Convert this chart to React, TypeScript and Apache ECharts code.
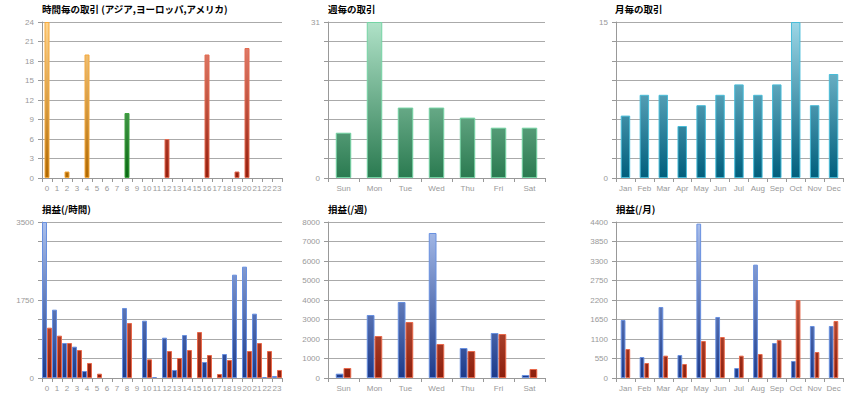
import React, { useEffect, useRef } from "react";
import * as echarts from "echarts";

// ---------- data ----------
const hourLabels = ["0","1","2","3","4","5","6","7","8","9","10","11","12","13","14","15","16","17","18","19","20","21","22","23"];
const weekLabels = ["Sun", "Mon", "Tue", "Wed", "Thu", "Fri", "Sat"];
const monthLabels = ["Jan","Feb","Mar","Apr","May","Jun","Jul","Aug","Sep","Oct","Nov","Dec"];

// trades per hour, split by market region
const asiaTrades =    [24, 0, 1, 0, 19, 0, 0, 0, null, null, null, null, null, null, null, null, null, null, null, null, null, null, null, null];
const europeTrades =  [null, null, null, null, null, null, null, null, 10, 0, 0, 0, null, null, null, null, null, null, null, null, null, null, null, null];
const americaTrades = [null, null, null, null, null, null, null, null, null, null, null, null, 6, 0, 0, 0, 19, 0, 0, 1, 20, 0, 0, 0];

const weeklyTrades = [9, 31, 14, 14, 12, 10, 10];
const monthlyTrades = [6, 8, 8, 5, 7, 8, 9, 8, 9, 15, 7, 10];

const hourlyProfit = [3500, 1533, 785, 703, 157, 0, 0, 0, 1571, 0, 1286, 22, 905, 180, 965, 0, 359, 0, 538, 2318, 2498, 1443, 22, 45];
const hourlyLoss =   [1129, 950, 785, 628, 337, 97, 0, 0, 1234, 0, 419, 0, 606, 449, 628, 1032, 516, 90, 404, 0, 606, 785, 606, 180];

const weeklyProfit = [222, 3231, 3897, 7436, 1538, 2308, 154];
const weeklyLoss =   [513, 2154, 2872, 1744, 1385, 2256, 462];

const monthlyProfit = [1636, 592, 2003, 649, 4353, 1721, 282, 3197, 987, 479, 1467, 1467];
const monthlyLoss =   [818, 423, 630, 395, 1044, 1156, 630, 677, 1072, 2200, 733, 1608];

const titles = [
  "時間毎の取引 (アジア,ヨーロッパ,アメリカ)",
  "週毎の取引",
  "月毎の取引",
  "損益(/時間)",
  "損益(/週)",
  "損益(/月)",
];

// ---------- layout ----------
const grids = [
  { left: 42, top: 22, width: 240, height: 156 },
  { left: 328, top: 22, width: 217, height: 156 },
  { left: 616, top: 22, width: 227, height: 156 },
  { left: 42, top: 222, width: 240, height: 156 },
  { left: 328, top: 222, width: 217, height: 156 },
  { left: 616, top: 222, width: 227, height: 156 },
];

const palette = {
  asia: { light: "#ffd590", dark: "#b06800", border: "#f5a83a" },
  europe: { light: "#8fd08f", dark: "#086812", border: "#3fa43f" },
  america: { light: "#ec8c7a", dark: "#961e0c", border: "#e46a50" },
  week: { light: "#b0e2c8", dark: "#2a7a50", border: "#74d4a4" },
  month: { light: "#9cd6e6", dark: "#005e7c", border: "#48bcd8" },
  profit: { light: "#abc0ec", dark: "#1c3a8a", border: "#6890e0" },
  loss: { light: "#f09478", dark: "#8c1e0c", border: "#e8684a" },
};

const LABEL_FONT = '"Liberation Sans", Arial, sans-serif';

function grad(gi: number, c: { light: string; dark: string }) {
  const g = grids[gi];
  return new echarts.graphic.LinearGradient(
    0, g.top, 0, g.top + g.height,
    [
      { offset: 0, color: c.light },
      { offset: 1, color: c.dark },
    ],
    true
  );
}

function bar(name: string, data: (number | null)[], gi: number, c: any, extra: any = {}) {
  return {
    type: "bar",
    name,
    xAxisIndex: gi,
    yAxisIndex: gi,
    data: data.map((v) => (v === 0 || v === null ? "-" : v)),
    itemStyle: { color: grad(gi, c), borderColor: c.border, borderWidth: 1 },
    ...extra,
  };
}

function xAx(gi: number, data: string[]) {
  return {
    type: "category",
    gridIndex: gi,
    data,
    axisLine: { show: true, lineStyle: { color: "#999", width: 1 } },
    axisTick: { show: true, length: 4, lineStyle: { color: "#999" } },
    axisLabel: { interval: 0, fontSize: 8, color: "#999", margin: 6, fontFamily: LABEL_FONT },
    splitLine: { show: false },
  };
}

function yAx(gi: number, max: number, interval: number, shown?: number[]) {
  return {
    type: "value",
    gridIndex: gi,
    min: 0,
    max,
    interval,
    axisLine: { show: true, lineStyle: { color: "#999", width: 1 } },
    axisTick: { show: true, length: 4, lineStyle: { color: "#999" } },
    axisLabel: {
      fontSize: 8,
      color: "#999",
      margin: 8,
      fontFamily: LABEL_FONT,
      formatter: (v: number) => {
        if (!shown) return String(v);
        return shown.some((s) => Math.abs(s - v) < 1e-6) ? String(v) : "";
      },
    },
    splitLine: { show: true, lineStyle: { color: "#aaa", width: 1 } },
  };
}

export default function App() {
  const ref = useRef<HTMLDivElement>(null);
  useEffect(() => {
    if (!ref.current) return;
    const chart = echarts.init(ref.current, undefined, { renderer: "svg" });
    const titleLeft = [42, 328, 615, 42, 328, 616];
    const titleTop = [4, 4, 4, 204, 204, 204];
    chart.setOption({
      animation: false,
      backgroundColor: "#fff",
      title: titles.map((t, i) => ({
        text: t,
        left: titleLeft[i],
        top: titleTop[i],
        padding: 0,
        textStyle: {
          fontSize: 9.5,
          fontWeight: "bold",
          color: "#000",
          fontFamily: '"Noto Sans CJK JP", sans-serif',
        },
      })),
      grid: grids.map((g) => ({ ...g, containLabel: false, outerBoundsMode: "none" })),
      xAxis: [
        xAx(0, hourLabels),
        xAx(1, weekLabels),
        xAx(2, monthLabels),
        xAx(3, hourLabels),
        xAx(4, weekLabels),
        xAx(5, monthLabels),
      ],
      yAxis: [
        yAx(0, 24, 3),
        yAx(1, 31, 3.875, [0, 31]),
        yAx(2, 15, 1.875, [0, 15]),
        yAx(3, 3500, 437.5, [0, 1750, 3500]),
        yAx(4, 8000, 1000),
        yAx(5, 4400, 550),
      ],
      series: [
        bar("アジア", asiaTrades, 0, palette.asia, { stack: "hourly", barWidth: "50%" }),
        bar("ヨーロッパ", europeTrades, 0, palette.europe, { stack: "hourly", barWidth: "50%" }),
        bar("アメリカ", americaTrades, 0, palette.america, { stack: "hourly", barWidth: "50%" }),
        bar("週毎の取引", weeklyTrades, 1, palette.week, { barWidth: "50%" }),
        bar("月毎の取引", monthlyTrades, 2, palette.month, { barWidth: "50%" }),
        bar("利益", hourlyProfit, 3, palette.profit, { barGap: "0%", barCategoryGap: "0%" }),
        bar("損失", hourlyLoss, 3, palette.loss, { barGap: "0%", barCategoryGap: "0%" }),
        bar("利益", weeklyProfit, 4, palette.profit, { barGap: "0%", barCategoryGap: "50%" }),
        bar("損失", weeklyLoss, 4, palette.loss, { barGap: "0%", barCategoryGap: "50%" }),
        bar("利益", monthlyProfit, 5, palette.profit, { barGap: "0%", barCategoryGap: "50%" }),
        bar("損失", monthlyLoss, 5, palette.loss, { barGap: "0%", barCategoryGap: "50%" }),
      ],
    });
    return () => chart.dispose();
  }, []);
  return (
    <div
      ref={ref}
      style={{ position: "fixed", left: 0, top: 0, width: 860, height: 400, background: "#fff" }}
    />
  );
}
